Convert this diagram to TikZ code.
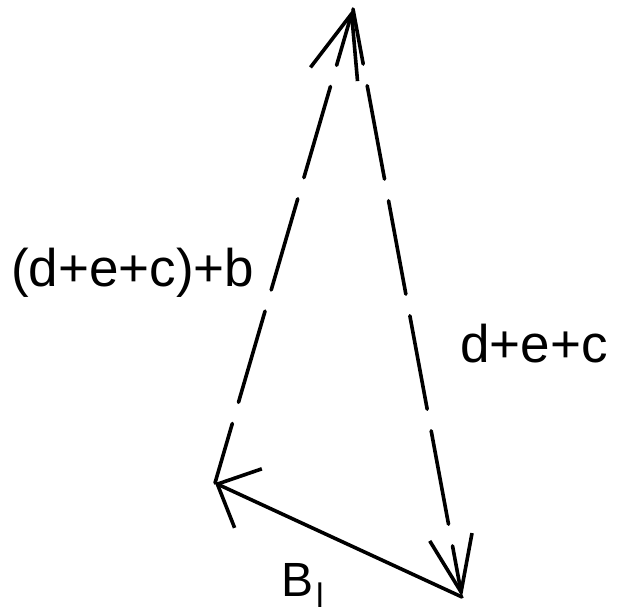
\documentclass[tikz,border=0pt]{standalone}
\usepackage{fontspec}
\setmainfont{Liberation Sans}
\usetikzlibrary{arrows.meta}
\begin{document}
\begin{tikzpicture}[x=1pt,y=-1pt,
  vec/.style={line width=3.6pt, line cap=round, line join=round},
  dashvec/.style={vec, dash pattern=on 95pt off 22pt},
  lbl/.style={inner sep=0pt, anchor=base west, font=\fontsize{53}{60}\selectfont}]
\useasboundingbox (0,0) rectangle (619,616);
\coordinate (A) at (353,9);
\coordinate (L) at (215,483);
\coordinate (R) at (462,597);
\draw[dashvec, dash phase=33pt, -{Straight Barb[length=63pt,width=49pt]}] (L) -- (A);
\draw[dashvec, dash phase=39pt, -{Straight Barb[length=56pt,width=43pt]}] (A) -- (R);
\draw[vec, -{Straight Barb[length=34pt,width=65pt]}] (R) -- (L);
\node[lbl] (lab1) at (11,286) {(d+e+c)+b};
\node[lbl] (lab2) at (460,362) {d+e+c};
\node[lbl, font=\fontsize{48}{56}\selectfont] (lab3) at (281,596) {B\kern3pt\raisebox{-11pt}{\fontsize{34}{40}\selectfont l}};
\end{tikzpicture}
\end{document}
